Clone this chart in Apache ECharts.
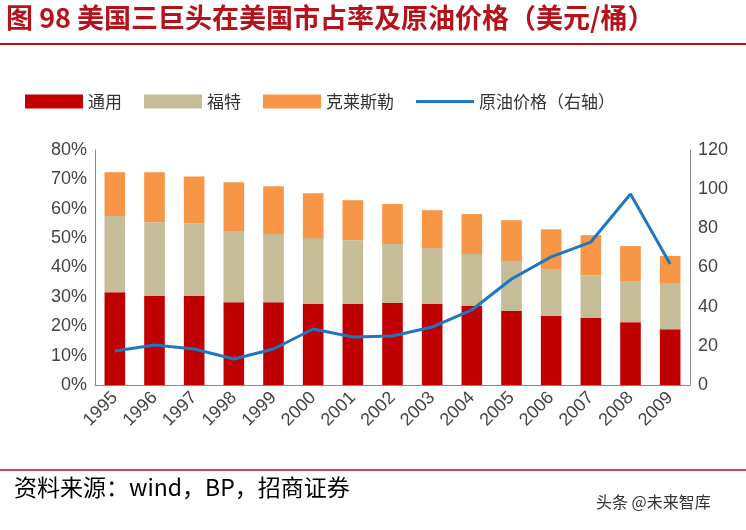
<!DOCTYPE html>
<html><head><meta charset="utf-8">
<script src="https://cdn.jsdelivr.net/npm/echarts@6/dist/echarts.min.js"></script>
<style>body{margin:0;background:#fff}#c{width:746px;height:530px}</style>
</head><body><div id="c"></div>
<script>
const years=['1995','1996','1997','1998','1999','2000','2001','2002','2003','2004','2005','2006','2007','2008','2009'];
const gm=[31.6,30.3,30.3,28.2,28.2,27.6,27.6,27.9,27.6,26.9,25.2,23.5,22.8,21.4,19.0];
const ford=[25.9,25.1,24.7,24.2,23.2,22.4,21.7,20.1,19.0,17.7,17.0,16.0,14.6,14.0,15.7];
const chrysler=[14.9,17.0,16.0,16.6,16.3,15.3,13.6,13.6,12.9,13.6,13.9,13.5,13.6,11.9,9.2];
const oil=[17.4,20.4,18.4,13.3,18.4,28.6,24.5,25.0,29.6,38.3,54.1,65.4,73.0,97.5,61.8];
const F='"Noto Sans CJK SC", sans-serif';
const c=echarts.init(document.getElementById('c'));
c.setOption({
animation:false,
graphic:[
{type:'text',left:6,top:4,style:{text:'图 98 美国三巨头在美国市占率及原油价格（美元/桶）',fill:'#b5121b',font:'bold 27px '+F}},
{type:'line',shape:{x1:0,y1:44,x2:746,y2:44},style:{stroke:'#b5121b',lineWidth:2}},
{type:'line',shape:{x1:0,y1:470,x2:746,y2:470},style:{stroke:'#b5121b',lineWidth:1.5}},
{type:'text',left:14,top:476,style:{text:'资料来源：wind，BP，招商证券',fill:'#000',font:'23px '+F}},
{type:'text',left:596,top:494,style:{text:'头条 @未来智库',fill:'#333',font:'16px '+F}}
],
legend:{top:88,left:20,itemGap:22,itemWidth:58,itemHeight:14,textStyle:{fontSize:17,fontFamily:F,color:'#333'},
data:[{name:'通用',icon:'rect'},{name:'福特',icon:'rect'},{name:'克莱斯勒',icon:'rect'},
{name:'原油价格（右轴）',icon:'path://M0,0L0.01,0L0.01,0.01Z M0,5.5L58,5.5L58,8.5L0,8.5Z M0,14L0.01,14L0.01,13.99Z'}]},
grid:{left:95,right:56,top:150,bottom:145},
xAxis:{type:'category',data:years,axisTick:{show:false},axisLine:{lineStyle:{color:'#888'}},
axisLabel:{rotate:45,fontSize:18,color:'#444',fontFamily:'Arial',interval:0,margin:10}},
yAxis:[{type:'value',min:0,max:80,interval:10,axisLabel:{formatter:'{value}%',fontSize:18,color:'#444',fontFamily:'Arial'},
axisLine:{show:true,lineStyle:{color:'#888'}},splitLine:{show:false}},
{type:'value',min:0,max:120,interval:20,axisLabel:{fontSize:18,color:'#444',fontFamily:'Arial'},
axisLine:{show:true,lineStyle:{color:'#888'}},splitLine:{show:false}}],
series:[
{name:'通用',type:'bar',stack:'s',data:gm,barWidth:'52%',itemStyle:{color:'#c00000'}},
{name:'福特',type:'bar',stack:'s',data:ford,itemStyle:{color:'#c4bd97'}},
{name:'克莱斯勒',type:'bar',stack:'s',data:chrysler,itemStyle:{color:'#f79646'}},
{name:'原油价格（右轴）',type:'line',yAxisIndex:1,data:oil,symbol:'none',lineStyle:{color:'#1f77c4',width:3},itemStyle:{color:'#1f77c4'}}
]});
</script></body></html>
